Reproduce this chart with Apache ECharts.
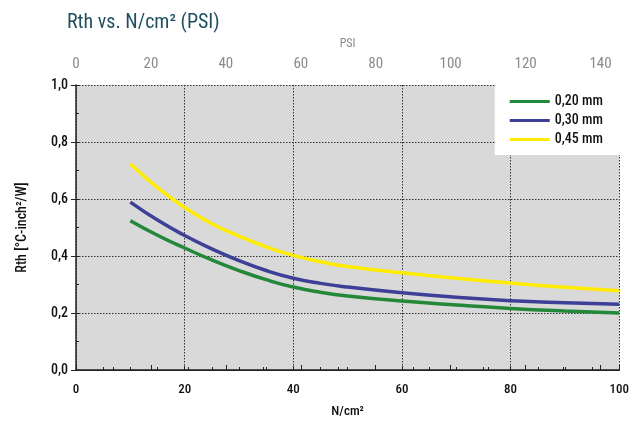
<!DOCTYPE html>
<html><head><meta charset="utf-8">
<script src="https://cdn.jsdelivr.net/npm/echarts@6/dist/echarts.min.js"></script>
<style>html,body{margin:0;padding:0;background:#fff}#c{width:632px;height:427px}</style>
</head><body><div id="c"></div>
<script>
const pressureN = [10, 15, 20, 25, 30, 35, 40, 45, 50, 60, 70, 80, 90, 100];
const rth020 = [0.524, 0.473, 0.428, 0.386, 0.349, 0.317, 0.291, 0.273, 0.260, 0.242, 0.228, 0.216, 0.207, 0.200];
const rth030 = [0.589, 0.526, 0.472, 0.425, 0.384, 0.349, 0.322, 0.304, 0.291, 0.271, 0.255, 0.243, 0.236, 0.231];
const rth045 = [0.724, 0.640, 0.570, 0.513, 0.470, 0.432, 0.402, 0.380, 0.363, 0.341, 0.322, 0.305, 0.290, 0.278];
const seriesNames = ['0,20 mm', '0,30 mm', '0,45 mm'];
const titleText = 'Rth vs. N/cm² (PSI)';
const xName = 'N/cm²';
const yName = 'Rth [°C-inch²/W]';
const topName = 'PSI';

const FONT = "'Roboto Condensed','DejaVu Sans Condensed','Liberation Sans Narrow',Roboto,sans-serif";
const colors = ['#23883a', '#3d4096', '#ffec00'];
const dark = '#222';
const dotted = { color: '#333', type: [1.5, 1.5], width: 1 };

function pairs(xs, ys) { return xs.map((x, i) => [x, ys[i]]); }
const comma = v => v.toFixed(1).replace('.', ',');

const chart = echarts.init(document.getElementById('c'));
chart.setOption({
  backgroundColor: '#fff',
  animation: false,
  textStyle: { fontFamily: FONT },
  title: {
    text: titleText, left: 62, top: 8,
    textStyle: { fontFamily: FONT, fontSize: 20, fontWeight: 'normal', color: '#1f4f5f' }
  },
  grid: { left: 76, right: 10, top: 85, bottom: 57, show: true, backgroundColor: '#d9d9d9', borderWidth: 0 },
  legend: {
    orient: 'vertical', right: 10, top: 85,
    backgroundColor: '#fff', padding: [9, 19, 8, 15],
    itemWidth: 40, itemHeight: 3, itemGap: 4, icon: 'rect',
    textStyle: { fontFamily: FONT, fontSize: 14, fontWeight: 500, color: '#111', lineHeight: 15 },
    data: seriesNames
  },
  xAxis: [{
    type: 'value', min: 0, max: 100, interval: 20, position: 'bottom',
    name: xName, nameLocation: 'middle', nameGap: 35,
    nameTextStyle: { fontFamily: FONT, fontSize: 13, fontWeight: 500, color: '#111' },
    axisLine: { show: true, lineStyle: { color: dark, width: 1.5 } },
    axisTick: { show: true, inside: true, length: 4, lineStyle: { color: dark } },
    minorTick: { show: true, splitNumber: 4, length: 3, lineStyle: { color: dark } },
    axisLabel: { fontFamily: FONT, fontSize: 13, fontWeight: 500, color: '#111', margin: 13 },
    splitLine: { show: true, lineStyle: dotted }
  }, {
    type: 'value', min: 0, max: 145, interval: 20, position: 'top',
    name: topName, nameLocation: 'middle', nameGap: 35,
    nameTextStyle: { fontFamily: FONT, fontSize: 12, color: '#8a8a8a' },
    axisLine: { show: true, lineStyle: { color: dark, width: 1 } },
    axisTick: { show: true, length: 5, lineStyle: { color: dark } },
    minorTick: { show: true, splitNumber: 2, length: 3, lineStyle: { color: dark } },
    axisLabel: { fontFamily: FONT, fontSize: 15, color: '#8a8a8a', margin: 13, showMaxLabel: false },
    splitLine: { show: false }
  }],
  yAxis: [{
    type: 'value', min: 0, max: 1, interval: 0.2, position: 'left',
    name: yName, nameLocation: 'middle', nameGap: 47, nameRotate: 90,
    nameTextStyle: { fontFamily: FONT, fontSize: 14, fontWeight: 500, color: '#111' },
    axisLine: { show: true, lineStyle: { color: dark, width: 1.5 } },
    axisTick: { show: true, length: 5, lineStyle: { color: dark } },
    axisLabel: { fontFamily: FONT, fontSize: 14, fontWeight: 500, color: '#111', margin: 8, formatter: comma },
    splitLine: { show: true, lineStyle: dotted }
  }, {
    type: 'value', min: 0, max: 1, interval: 0.2, position: 'left',
    axisLine: { show: false },
    axisTick: { show: true, inside: true, length: 3, lineStyle: { color: dark } },
    minorTick: { show: true, splitNumber: 2, length: 3, lineStyle: { color: dark } },
    axisLabel: { show: false },
    splitLine: { show: false }
  }],
  series: [rth020, rth030, rth045].map((d, i) => ({
    name: seriesNames[i], type: 'line', smooth: 0.5, showSymbol: false,
    xAxisIndex: 0, yAxisIndex: 0,
    data: pairs(pressureN, d),
    lineStyle: { color: colors[i], width: 3.5 },
    itemStyle: { color: colors[i] }
  }))
});
</script></body></html>
